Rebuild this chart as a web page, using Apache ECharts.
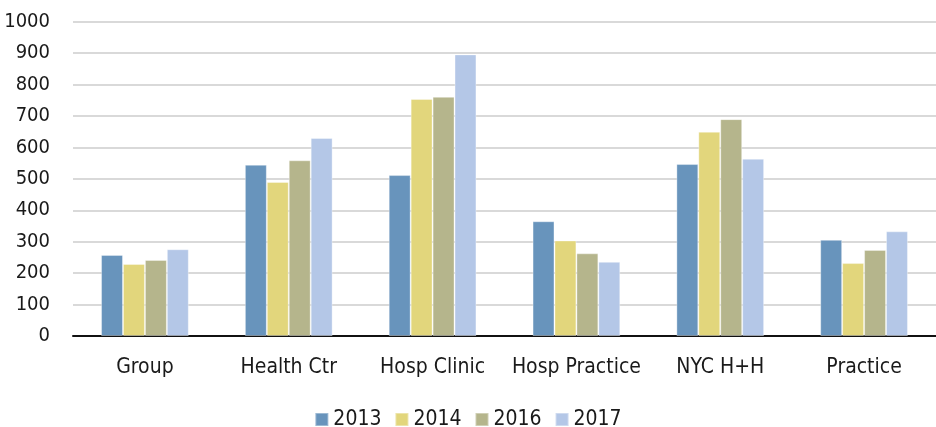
<!DOCTYPE html>
<html>
<head>
<meta charset="utf-8">
<script src="https://cdn.jsdelivr.net/npm/echarts@6/dist/echarts.min.js"></script>
<style>
html, body { margin: 0; padding: 0; background: #fff; }
#main { width: 936px; height: 427px; }
</style>
</head>
<body>
<div id="main"></div>
<script>
var chart = echarts.init(document.getElementById("main"));

// 类别和年份
var categories = ["Group", "Health Ctr", "Hosp Clinic", "Hosp Practice", "NYC H+H", "Practice"];
var years = ["2013", "2014", "2016", "2017"];
// 每年的数值
var data_2013 = [258, 545, 512, 365, 547, 306];
var data_2014 = [229, 490, 754, 304, 650, 232];
var data_2016 = [242, 559, 761, 263, 690, 274];
var data_2017 = [276, 630, 896, 236, 564, 333];
var colors = ["#6894bc", "#e2d67c", "#b5b58c", "#b4c7e7"];

var font = "'DejaVu Sans Condensed', sans-serif";

var all_data = [data_2013, data_2014, data_2016, data_2017];
var series = [];
for (var i = 0; i < years.length; i++) {
    series.push({
        name: years[i],
        type: 'bar',
        data: all_data[i],
        barGap: '0%',
        barCategoryGap: '39%',
        itemStyle: {
            color: colors[i],
            borderColor: 'rgba(255,255,255,0.35)',
            borderWidth: 1
        }
    });
}

var option = {
    color: colors,
    animation: false,
    grid: {
        left: 73,
        right: 0,
        top: 21.7,
        bottom: 91,
        outerBoundsMode: 'none',
        containLabel: false
    },
    legend: {
        data: years,
        top: 404,
        left: 'center',
        itemWidth: 13,
        itemHeight: 13,
        itemGap: 13,
        icon: 'rect',
        textStyle: {
            fontFamily: font,
            fontSize: 21,
            color: '#1a1a1a'
        }
    },
    xAxis: {
        type: 'category',
        data: categories,
        axisTick: { show: false },
        axisLine: { lineStyle: { color: '#111', width: 2 } },
        axisLabel: {
            interval: 0,
            margin: 21,
            fontFamily: font,
            fontSize: 21,
            color: '#1a1a1a'
        }
    },
    yAxis: {
        type: 'value',
        min: 0,
        max: 1000,
        interval: 100,
        axisLine: { show: false },
        axisTick: { show: false },
        splitLine: { lineStyle: { color: '#d9d9d9', width: 2 } },
        axisLabel: {
            margin: 23,
            fontFamily: font,
            fontSize: 20,
            color: '#1a1a1a',
            formatter: function (v) { return String(v); }
        }
    },
    series: series
};

chart.setOption(option);
</script>
</body>
</html>
